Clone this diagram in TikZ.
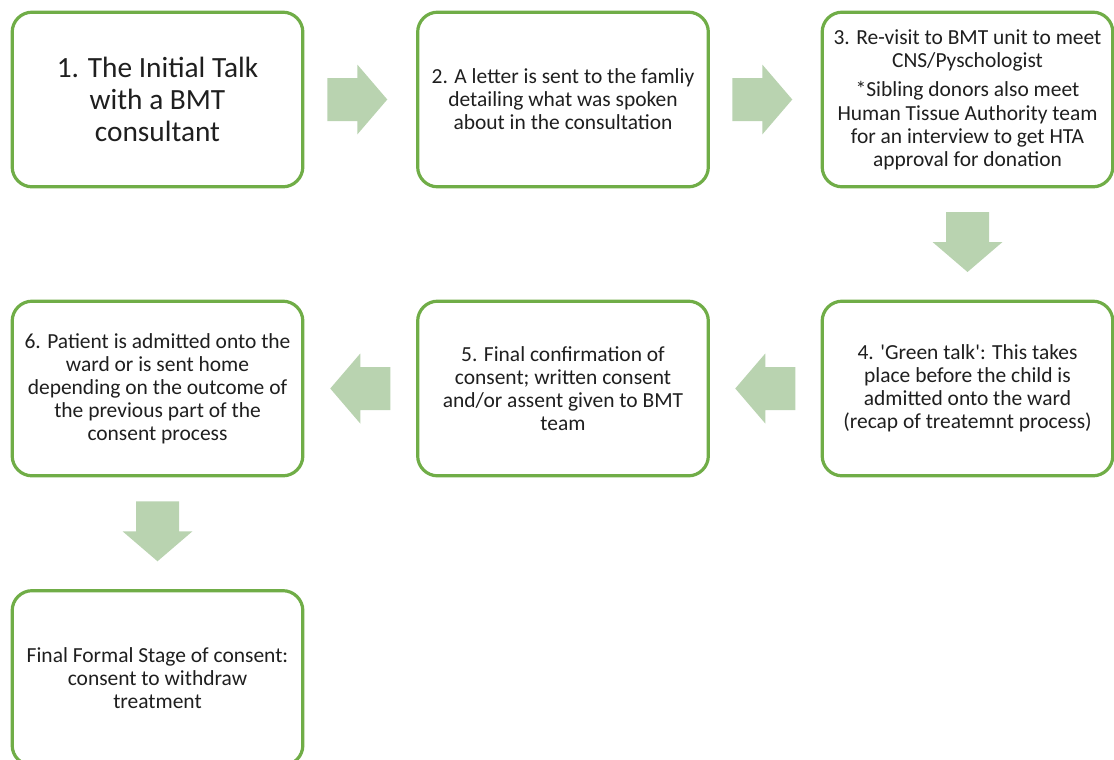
\documentclass[tikz,border=0pt]{standalone}
\usepackage{fontspec}
\setmainfont{Carlito}
\usetikzlibrary{calc}
\definecolor{boxgreen}{RGB}{112,173,71}
\definecolor{arrowgreen}{RGB}{185,211,176}
\tikzset{
  stagebox/.style={draw=boxgreen, line width=2.4pt, rounded corners=15pt, fill=white,
    minimum width=218pt, minimum height=131pt, align=center, inner sep=3pt,
    font=\fontsize{16.1pt}{17.3pt}\selectfont, text=black!88},
  bigtext/.style={font=\fontsize{22pt}{24pt}\selectfont},
  blockarrow/.pic={\fill[arrowgreen] (-30,-21.5) -- (0,-21.5) -- (0,-35) -- (30,0) -- (0,35) -- (0,21.5) -- (-30,21.5) -- cycle;}
}
\begin{document}
\begin{tikzpicture}[x=0.75pt,y=-0.75pt]
\useasboundingbox (0,0) rectangle (1114,760);
\node[stagebox,bigtext] (b1) at (157.5,99.5) {1. The Initial Talk\\with a BMT\\consultant};
\node[stagebox] (b2) at (563,99.5) {2. A letter is sent to the famliy\\detailing what was spoken\\about in the consultation};
\node[stagebox] (b3) at (967.5,99.5) {3. Re-visit to BMT unit to meet\\CNS/Pyschologist\\[5pt]*Sibling donors also meet\\Human Tissue Authority team\\for an interview to get HTA\\approval for donation};
\node[stagebox] (b4) at (967.5,388.5) {4. \textquotesingle Green talk\textquotesingle: This takes\\place before the child is\\admitted onto the ward\\(recap of treatemnt process)};
\node[stagebox] (b5) at (563,388.5) {5. Final confirmation of\\consent; written consent\\and/or assent given to BMT\\team};
\node[stagebox] (b6) at (157.5,388.5) {6. Patient is admitted onto the\\ward or is sent home\\depending on the outcome of\\the previous part of the\\consent process};
\node[stagebox] (b7) at (157.5,678) {Final Formal Stage of consent:\\consent to withdraw\\treatment};
\coordinate (m12) at ($(b1.east)!0.5!(b2.west)+(-3,0)$);
\coordinate (m23) at ($(b2.east)!0.5!(b3.west)+(-3,0)$);
\coordinate (m34) at ($(b3.south)!0.5!(b4.north)+(0,-2)$);
\coordinate (m45) at ($(b4.west)!0.5!(b5.east)$);
\coordinate (m56) at ($(b5.west)!0.5!(b6.east)$);
\coordinate (m67) at ($(b6.south)!0.5!(b7.north)+(0,-2)$);
\pic at (m12) {blockarrow};
\pic at (m23) {blockarrow};
\pic[rotate=-90] at (m34) {blockarrow};
\pic[rotate=180] at (m45) {blockarrow};
\pic[rotate=180] at (m56) {blockarrow};
\pic[rotate=-90] at (m67) {blockarrow};
\end{tikzpicture}
\end{document}
